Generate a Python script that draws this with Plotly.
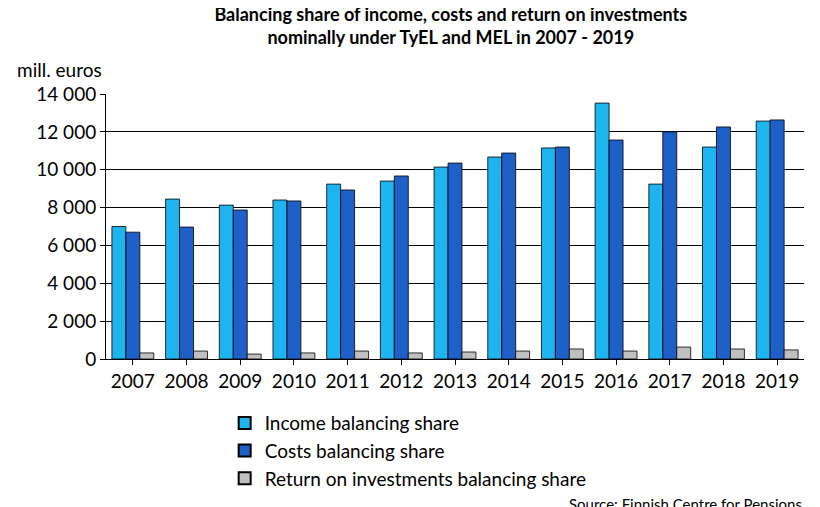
import plotly.graph_objects as go

years = [str(y) for y in range(2007, 2020)]
income = [7000, 8450, 8130, 8400, 9240, 9400, 10140, 10670, 11150, 13520, 9240, 11200, 12570]
costs = [6700, 6970, 7870, 8350, 8930, 9670, 10350, 10880, 11200, 11570, 12000, 12260, 12630]
returns = [320, 420, 260, 320, 420, 320, 370, 420, 530, 420, 630, 530, 480]

tick_vals = [0, 2000, 4000, 6000, 8000, 10000, 12000, 14000]
tick_text = ["0", "2 000", "4 000", "6 000", "8 000", "10 000", "12 000", "14 000"]

fig = go.Figure()
fig.add_trace(go.Bar(x=years, y=income, name="Income balancing share",
                     marker=dict(color="#1EB4F0", line=dict(color="black", width=0.8))))
fig.add_trace(go.Bar(x=years, y=costs, name="Costs balancing share",
                     marker=dict(color="#1F5FC8", line=dict(color="black", width=0.8))))
fig.add_trace(go.Bar(x=years, y=returns, name="Return on investments balancing share",
                     marker=dict(color="#C0C0C0", line=dict(color="black", width=0.8))))

fig.update_layout(
    width=820, height=507,
    font=dict(family="Lato", size=19, color="black"),
    plot_bgcolor="white", paper_bgcolor="white",
    margin=dict(l=98, r=24, t=86, b=156, autoexpand=False),
    bargap=0.22, bargroupgap=0,
    title=dict(text="<b>Balancing share of income, costs and return on investments<br>nominally under TyEL and MEL in 2007 - 2019</b>",
               x=0.54, xanchor="center", yref="container", y=0.975, yanchor="top",
               font=dict(size=18)),
    xaxis=dict(showline=True, linecolor="black", ticks="outside", ticklen=5,
               tickcolor="black", showgrid=False),
    yaxis=dict(range=[0, 14000], tickvals=tick_vals, ticktext=tick_text,
               showgrid=True, gridcolor="black", gridwidth=1, showline=True,
               linecolor="black", ticks="outside", ticklen=5, tickcolor="black"),
    legend=dict(orientation="v", x=0.17, xanchor="left", y=-0.17, yanchor="top",
                font=dict(size=19), tracegroupgap=0, itemsizing="constant"),
    showlegend=True,
)
fig.add_annotation(text="mill. euros", xref="paper", yref="paper", x=-0.13, y=1.04,
                   xanchor="left", yanchor="bottom", showarrow=False, font=dict(size=19))
fig.add_annotation(text="Source: Finnish Centre for Pensions", xref="paper", yref="paper",
                   x=1.0, y=-0.505, xanchor="right", yanchor="top", showarrow=False,
                   font=dict(size=15))

fig.write_html("out.html")
